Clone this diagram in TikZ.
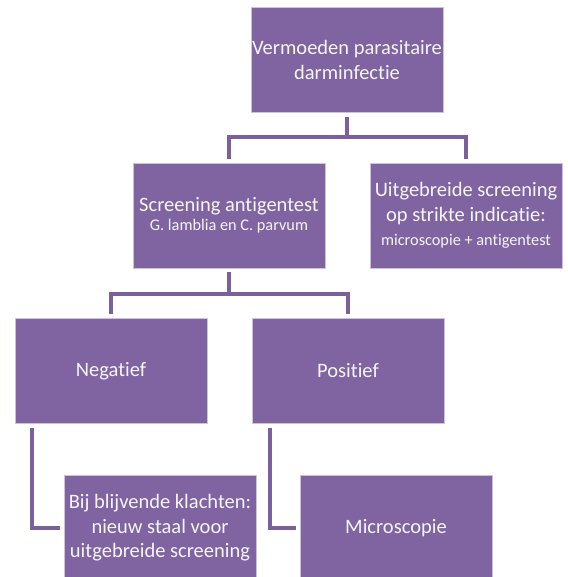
\documentclass[tikz,border=0pt]{standalone}
\usepackage{fontspec}
\setmainfont{Carlito}[RawFeature={-liga}]
\definecolor{boxfill}{RGB}{128,100,162}
\definecolor{linecol}{RGB}{124,96,158}
\definecolor{boxedge}{RGB}{205,195,220}
\definecolor{txt}{RGB}{245,245,245}
\begin{document}
\begin{tikzpicture}[x=1pt,y=-1pt,
  pbox/.style={fill=boxfill,draw=boxedge,line width=0.6pt,minimum width=192pt,minimum height=105pt,
    inner sep=0pt,align=center,text=txt,font=\fontsize{20.5}{24.5}\selectfont},
  conn/.style={draw=linecol,line width=3.2pt,shorten <=4pt,shorten >=4pt}]
\useasboundingbox (0,0) rectangle (567,577);
\begin{scope}
\clip (0,0) rectangle (567,577);
\node[pbox] (top) at (347,60) {Vermoeden parasitaire\\darminfectie};
\node[pbox] (scr) at (229,215.5) {Screening antigentest\\[-5pt]{\fontsize{16.3}{19}\selectfont G. lamblia en C. parvum}};
\node[pbox] (ext) at (466,215.5) {Uitgebreide screening\\op strikte indicatie:\\{\fontsize{16.3}{21}\selectfont microscopie + antigentest}};
\node[pbox] (neg) at (111,371) {Negatief};
\node[pbox] (pos) at (348,371) {Positief};
\node[pbox,minimum height=106pt] (bij) at (160,528) {Bij blijvende klachten:\\nieuw staal voor\\uitgebreide screening};
\node[pbox,minimum height=106pt] (mic) at (396,528) {Microscopie};
\coordinate (j1) at (347,137);
\coordinate (j2) at (229,294);
\draw[conn,shorten >=0pt] (top) -- (j1);
\draw[conn,shorten <=0pt] (j1) -| (scr);
\draw[conn,shorten <=0pt] (j1) -| (ext);
\draw[conn,shorten >=0pt] (scr) -- (j2);
\draw[conn,shorten <=0pt] (j2) -| (neg);
\draw[conn,shorten <=0pt] (j2) -| (pos);
\draw[conn] ([xshift=-79pt]neg.south) |- (bij.west);
\draw[conn] ([xshift=-78pt]pos.south) |- (mic.west);
\end{scope}
\end{tikzpicture}
\end{document}
